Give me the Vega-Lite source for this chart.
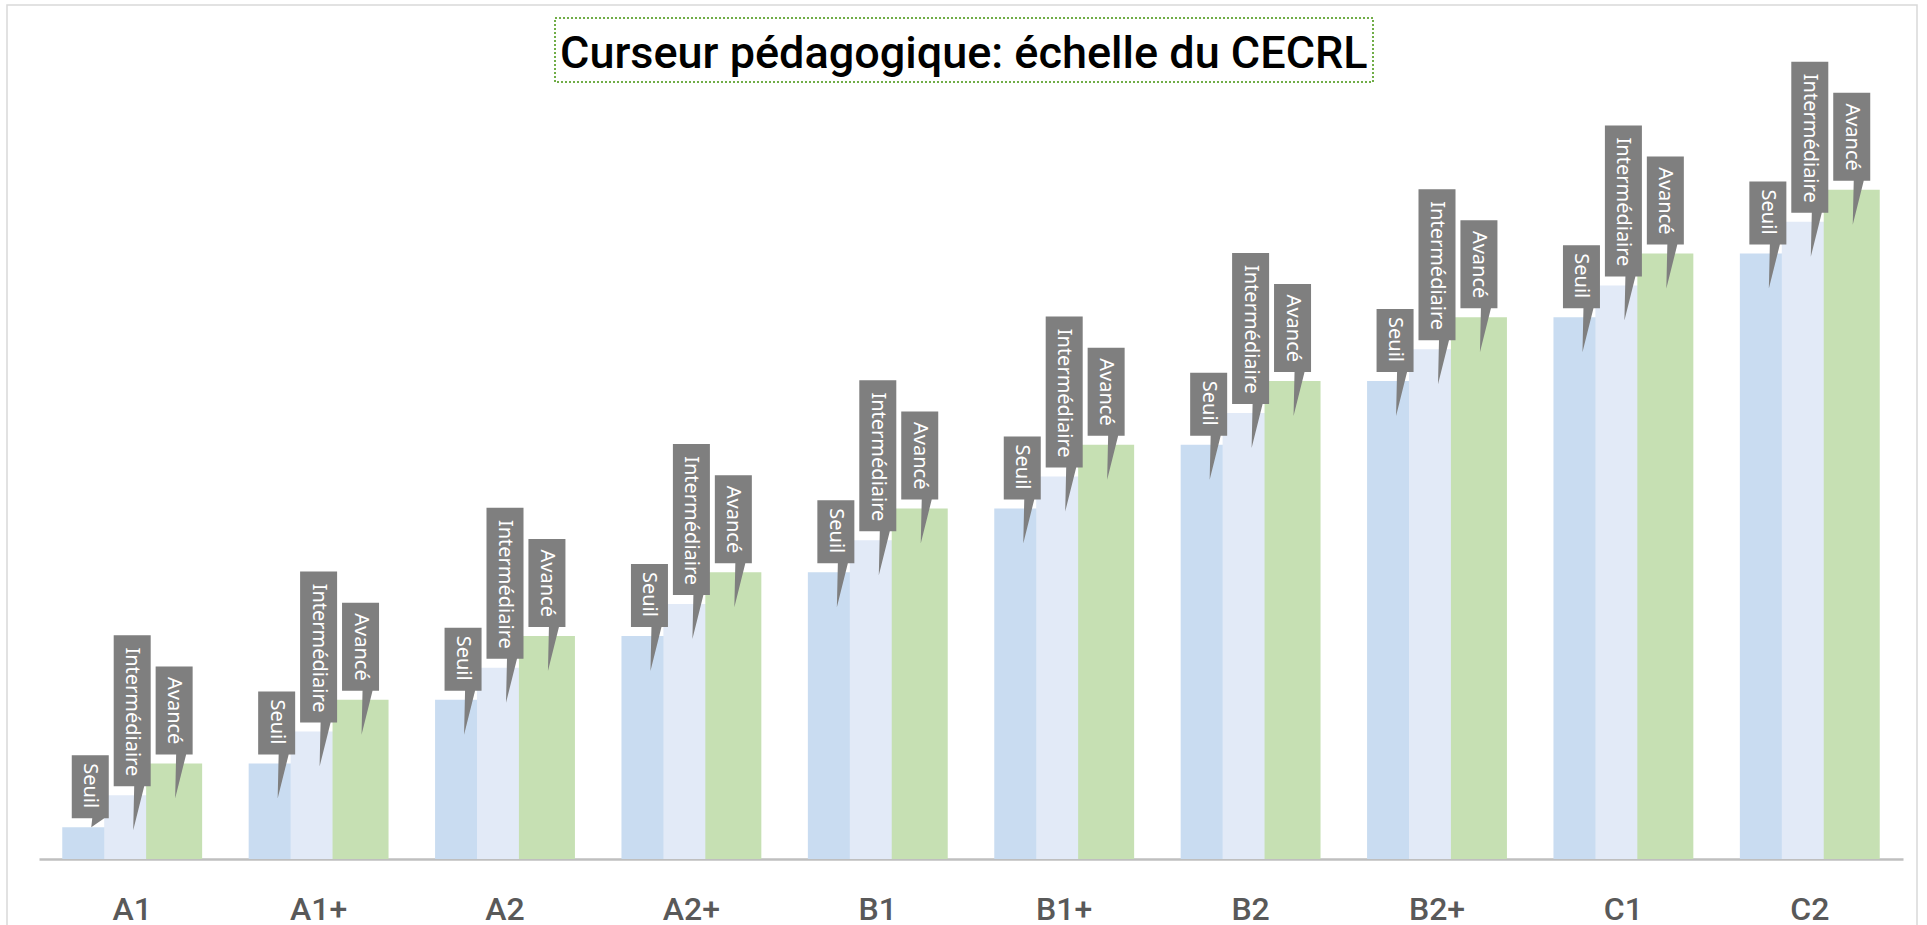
{
  "$schema": "https://vega.github.io/schema/vega-lite/v6.json",
  "width": 1910,
  "height": 930,
  "autosize": "none",
  "padding": {"left": 7, "top": 5, "right": 10, "bottom": 0},
  "background": "white",
  "config": {
    "view": {"stroke": "#d9d9d9", "strokeWidth": 1.5}
  },
  "data": {
    "values": [
      {"niveau": "A1", "serie": "Seuil", "v": 1},
      {"niveau": "A1", "serie": "Intermédiaire", "v": 2},
      {"niveau": "A1", "serie": "Avancé", "v": 3},
      {"niveau": "A1+", "serie": "Seuil", "v": 3},
      {"niveau": "A1+", "serie": "Intermédiaire", "v": 4},
      {"niveau": "A1+", "serie": "Avancé", "v": 5},
      {"niveau": "A2", "serie": "Seuil", "v": 5},
      {"niveau": "A2", "serie": "Intermédiaire", "v": 6},
      {"niveau": "A2", "serie": "Avancé", "v": 7},
      {"niveau": "A2+", "serie": "Seuil", "v": 7},
      {"niveau": "A2+", "serie": "Intermédiaire", "v": 8},
      {"niveau": "A2+", "serie": "Avancé", "v": 9},
      {"niveau": "B1", "serie": "Seuil", "v": 9},
      {"niveau": "B1", "serie": "Intermédiaire", "v": 10},
      {"niveau": "B1", "serie": "Avancé", "v": 11},
      {"niveau": "B1+", "serie": "Seuil", "v": 11},
      {"niveau": "B1+", "serie": "Intermédiaire", "v": 12},
      {"niveau": "B1+", "serie": "Avancé", "v": 13},
      {"niveau": "B2", "serie": "Seuil", "v": 13},
      {"niveau": "B2", "serie": "Intermédiaire", "v": 14},
      {"niveau": "B2", "serie": "Avancé", "v": 15},
      {"niveau": "B2+", "serie": "Seuil", "v": 15},
      {"niveau": "B2+", "serie": "Intermédiaire", "v": 16},
      {"niveau": "B2+", "serie": "Avancé", "v": 17},
      {"niveau": "C1", "serie": "Seuil", "v": 17},
      {"niveau": "C1", "serie": "Intermédiaire", "v": 18},
      {"niveau": "C1", "serie": "Avancé", "v": 19},
      {"niveau": "C2", "serie": "Seuil", "v": 19},
      {"niveau": "C2", "serie": "Intermédiaire", "v": 20},
      {"niveau": "C2", "serie": "Avancé", "v": 21}
    ]
  },
  "layer": [
    {
      "mark": {"type": "bar", "width": 56},
      "encoding": {
        "x": {
          "field": "niveau", "type": "nominal", "sort": null,
          "scale": {"range": [32, 1896], "paddingInner": 0.25, "paddingOuter": 0.125},
          "axis": {
            "title": null, "ticks": false, "tickSize": 0, "grid": false,
            "domainColor": "#bfbfbf", "domainWidth": 2.5,
            "labelFont": "Roboto", "labelFontSize": 32, "labelFontWeight": 500, "labelColor": "#595959",
            "labelPadding": 35, "labelAngle": 0, "offset": -76
          }
        },
        "xOffset": {
          "field": "serie", "type": "nominal",
          "scale": {"type": "point", "domain": ["Seuil", "Intermédiaire", "Avancé"], "padding": 0.6667}
        },
        "y": {
          "field": "v", "type": "quantitative",
          "scale": {"domain": [0, 26.8], "range": [854, 0], "nice": false, "zero": true},
          "axis": null
        },
        "fill": {
          "field": "serie", "type": "nominal",
          "scale": {"domain": ["Seuil", "Intermédiaire", "Avancé"], "range": ["#c9dcf1", "#e2eaf7", "#c6e0b3"]},
          "legend": null
        }
      }
    },
    {
      "mark": {"type": "point", "filled": true, "size": 4, "opacity": 1, "fill": "#7f7f7f", "strokeWidth": 0},
      "encoding": {
        "x": {"field": "niveau", "type": "nominal", "sort": null},
        "xOffset": {"field": "serie", "type": "nominal"},
        "y": {"field": "v", "type": "quantitative"},
        "shape": {
          "condition": {"test": "datum.v < 2", "value": "M-18.5,-72H18.5V-9H14L1,0L2,-9H-18.5Z"},
          "field": "serie", "type": "nominal",
          "scale": {
            "domain": ["Seuil", "Intermédiaire", "Avancé"],
            "range": [
              "M-18.5,-72H18.5V-9H12L1,35L2,-9H-18.5Z",
              "M-18.5,-160H18.5V-9H12L1,35L2,-9H-18.5Z",
              "M-18.5,-97H18.5V-9H12L1,35L2,-9H-18.5Z"
            ]
          },
          "legend": null
        }
      }
    },
    {
      "mark": {"type": "text", "angle": 90, "align": "right", "baseline": "middle", "yOffset": -19, "font": "Noto Sans", "fontSize": 20, "fill": "#ffffff"},
      "encoding": {
        "x": {"field": "niveau", "type": "nominal", "sort": null},
        "xOffset": {"field": "serie", "type": "nominal"},
        "y": {"field": "v", "type": "quantitative"},
        "text": {"field": "serie", "type": "nominal"}
      }
    },
    {
      "data": {"values": [{"t": "Curseur pédagogique: échelle du CECRL"}]},
      "mark": {"type": "point", "opacity": 0},
      "encoding": {
        "color": {
          "field": "t", "type": "nominal",
          "legend": {
            "title": "Curseur pédagogique: échelle du CECRL",
            "orient": "none", "legendX": 548, "legendY": 13,
            "titleFont": "Roboto", "titleFontSize": 45, "titleFontWeight": 500, "titleColor": "#000000",
            "titleLimit": 2000, "titlePadding": 0,
            "labelExpr": "''", "labelFontSize": 1, "labelOffset": 0,
            "symbolSize": 0, "symbolOpacity": 0, "symbolStrokeWidth": 0,
            "padding": 5, "strokeColor": "#70ad47",
            "encoding": {
              "legend": {"strokeDash": {"value": [2, 2]}, "strokeWidth": {"value": 2}},
              "title": {"dy": {"value": 9}}
            }
          }
        }
      }
    }
  ]
}
